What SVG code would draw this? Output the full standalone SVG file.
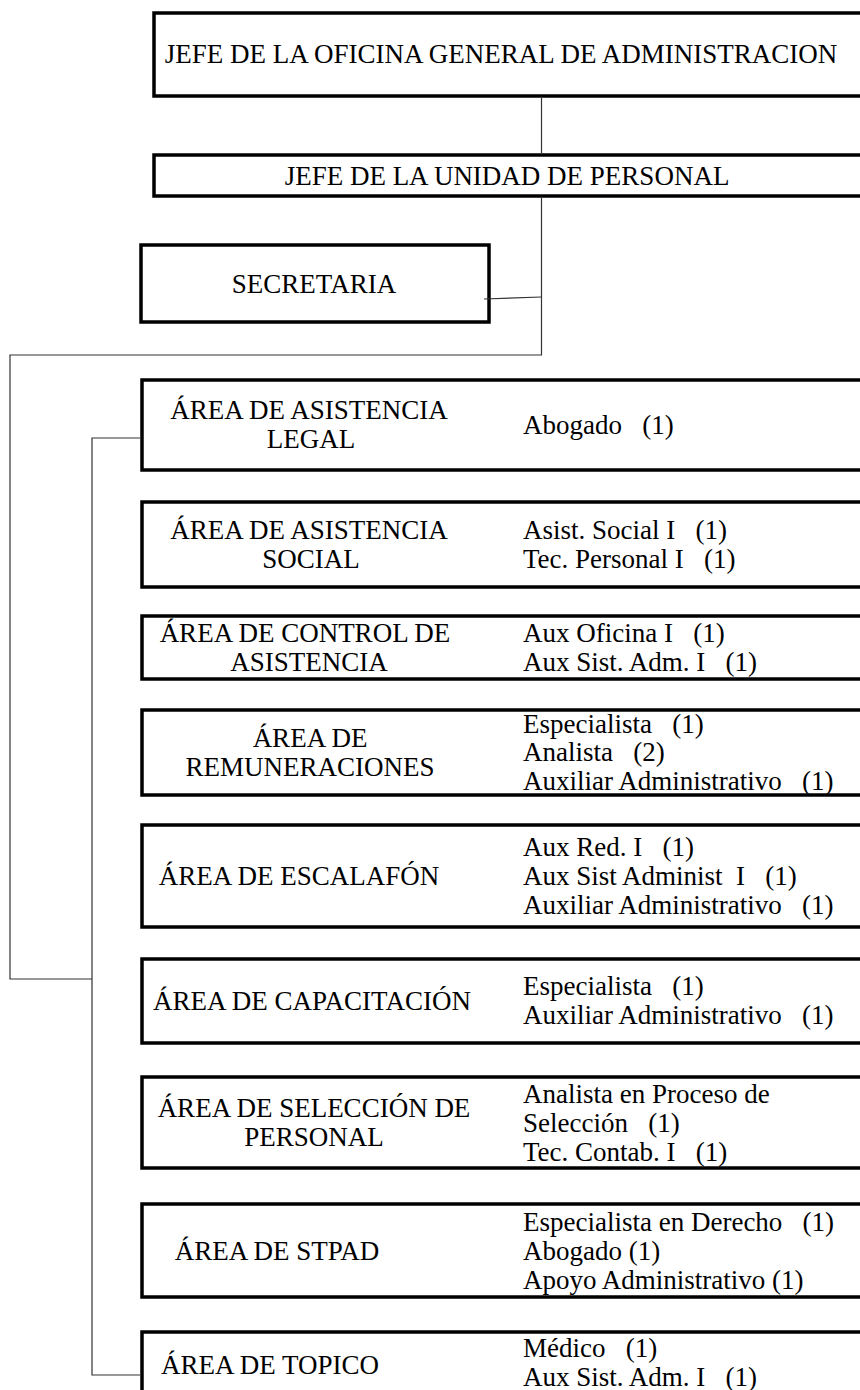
<svg xmlns="http://www.w3.org/2000/svg" width="860" height="1390" viewBox="0 0 860 1390">
<style>
.box{fill:#fff;stroke:#000;stroke-width:3.5}
.con{fill:none;stroke:#333;stroke-width:1.2}
text{font-family:"Liberation Serif","Times New Roman",serif;font-size:27px;fill:#000;white-space:pre}
.c{text-anchor:middle}
</style>
<rect width="860" height="1390" fill="#fff"/>
<g id="jefe-oga">
<rect class="box" x="154" y="13" width="720" height="83"/>
<text class="c" x="501" y="63">JEFE DE LA OFICINA GENERAL DE ADMINISTRACION</text>
</g>
<g id="jefe-personal">
<rect class="box" x="154" y="155" width="720" height="41"/>
<text class="c" x="507" y="185">JEFE DE LA UNIDAD DE PERSONAL</text>
</g>
<g id="secretaria">
<rect class="box" x="141" y="245" width="348" height="77"/>
<text class="c" x="314" y="293">SECRETARIA</text>
</g>
<g id="area-legal">
<rect class="box" x="142" y="380" width="732" height="90"/>
<text class="c" x="309" y="419">ÁREA DE ASISTENCIA</text>
<text class="c" x="311" y="448">LEGAL</text>
<text x="523" y="434">Abogado   (1)</text>
</g>
<g id="area-social">
<rect class="box" x="142" y="502" width="732" height="85"/>
<text class="c" x="309" y="539">ÁREA DE ASISTENCIA</text>
<text class="c" x="311" y="568">SOCIAL</text>
<text x="523" y="539">Asist. Social I   (1)</text>
<text x="523" y="568">Tec. Personal I   (1)</text>
</g>
<g id="area-control">
<rect class="box" x="142" y="616" width="732" height="63"/>
<text class="c" x="305" y="642">ÁREA DE CONTROL DE</text>
<text class="c" x="309" y="671">ASISTENCIA</text>
<text x="523" y="642">Aux Oficina I   (1)</text>
<text x="523" y="671">Aux Sist. Adm. I   (1)</text>
</g>
<g id="area-remuneraciones">
<rect class="box" x="142" y="710" width="732" height="85"/>
<text class="c" x="310" y="747">ÁREA DE</text>
<text class="c" x="310" y="776">REMUNERACIONES</text>
<text x="523" y="733">Especialista   (1)</text>
<text x="523" y="761">Analista   (2)</text>
<text x="523" y="790">Auxiliar Administrativo   (1)</text>
</g>
<g id="area-escalafon">
<rect class="box" x="142" y="825" width="732" height="102"/>
<text class="c" x="299" y="885">ÁREA DE ESCALAFÓN</text>
<text x="523" y="856">Aux Red. I   (1)</text>
<text x="523" y="885">Aux Sist Administ  I   (1)</text>
<text x="523" y="914">Auxiliar Administrativo   (1)</text>
</g>
<g id="area-capacitacion">
<rect class="box" x="142" y="959" width="732" height="84"/>
<text class="c" x="312" y="1010">ÁREA DE CAPACITACIÓN</text>
<text x="523" y="995">Especialista   (1)</text>
<text x="523" y="1024">Auxiliar Administrativo   (1)</text>
</g>
<g id="area-seleccion">
<rect class="box" x="142" y="1077" width="732" height="91"/>
<text class="c" x="314" y="1117">ÁREA DE SELECCIÓN DE</text>
<text class="c" x="314" y="1146">PERSONAL</text>
<text x="523" y="1103">Analista en Proceso de</text>
<text x="523" y="1132">Selección   (1)</text>
<text x="523" y="1161">Tec. Contab. I   (1)</text>
</g>
<g id="area-stpad">
<rect class="box" x="142" y="1204" width="732" height="93"/>
<text class="c" x="277" y="1260">ÁREA DE STPAD</text>
<text x="523" y="1231">Especialista en Derecho   (1)</text>
<text x="523" y="1260">Abogado (1)</text>
<text x="523" y="1289">Apoyo Administrativo (1)</text>
</g>
<g id="area-topico">
<rect class="box" x="142" y="1332" width="732" height="80"/>
<text class="c" x="270" y="1374">ÁREA DE TOPICO</text>
<text x="523" y="1357">Médico   (1)</text>
<text x="523" y="1386">Aux Sist. Adm. I   (1)</text>
</g>
<g id="connectors">
<line class="con" x1="541.5" y1="98" x2="541.5" y2="153"/>
<polyline class="con" points="541.5,198 541.5,355 10,355 10,979 92,979"/>
<line class="con" x1="484" y1="299" x2="541.5" y2="297"/>
<polyline class="con" points="140,438 92,438 92,1375 140,1375"/>
</g>
</svg>
